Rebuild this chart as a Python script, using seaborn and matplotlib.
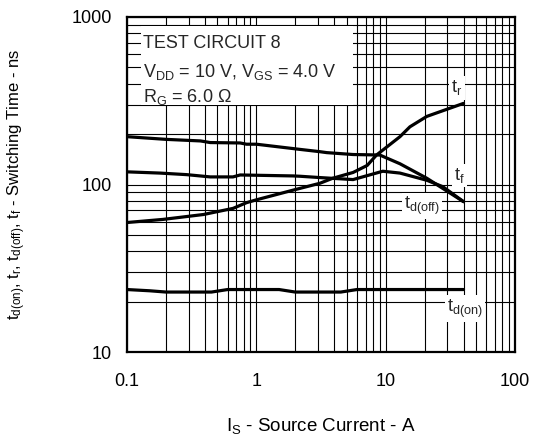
import numpy as np
import pandas as pd
import seaborn as sns
import matplotlib
matplotlib.use("Agg")
import matplotlib.pyplot as plt
from matplotlib.patches import Rectangle
from matplotlib.ticker import FixedLocator, FixedFormatter, NullFormatter, LogLocator

# Switching time vs. source current, one array pair per curve
current_td_off = [0.1, 0.134, 0.2, 0.37, 0.44, 0.75, 0.84, 1.0, 2.18, 3.1, 3.5, 5.6, 9.0, 12.9, 20.8, 40]
time_td_off = [193, 190, 186, 182, 178, 177, 174, 174, 162, 157, 155, 151, 150, 133, 109, 79]

current_tf = [0.1, 0.18, 0.29, 0.44, 0.66, 0.75, 1.93, 2.18, 3.1, 5.6, 9.5, 12.9, 20.8, 27.7, 40]
time_tf = [119, 117, 114.5, 111, 111, 114, 112.5, 112, 110, 107, 120, 117, 106, 97, 79]

current_tr = [0.1, 0.19, 0.39, 0.66, 0.84, 1.0, 1.93, 3.1, 3.9, 5.6, 7.2, 8.5, 12.9, 15.4, 20.8, 40]
time_tr = [59.3, 61.9, 66.2, 72, 77.9, 81, 92.6, 101.7, 109, 118, 130, 150, 193, 221, 255, 305]

current_td_on = [0.1, 0.15, 0.2, 0.45, 0.6, 1.5, 2.0, 4.5, 6.0, 40]
time_td_on = [23.6, 23.2, 22.8, 22.8, 23.6, 23.6, 22.8, 22.8, 23.6, 23.6]

x_ticks = [0.1, 1, 10, 100]
x_tick_labels = ["0.1", "1", "10", "100"]
y_ticks = [10, 100, 1000]
y_tick_labels = ["10", "100", "1000"]

sns.set_theme(style="white")
plt.rcParams["font.family"] = ["Liberation Sans", "DejaVu Sans"]
plt.rcParams["mathtext.default"] = "regular"

frames = []
for name, xs, ys in [
    ("td_off", current_td_off, time_td_off),
    ("tf", current_tf, time_tf),
    ("tr", current_tr, time_tr),
    ("td_on", current_td_on, time_td_on),
]:
    frames.append(pd.DataFrame({"current": xs, "time": ys, "curve": name}))
df = pd.concat(frames, ignore_index=True)

fig = plt.figure(figsize=(5.33, 4.37), dpi=100)
ax = fig.add_axes([0.2383, 0.1945, 0.7279, 0.7666])

sns.lineplot(
    data=df, x="current", y="time", hue="curve", units="curve",
    estimator=None, sort=False, legend=False,
    palette={k: "black" for k in df["curve"].unique()},
    linewidth=2.3, ax=ax, zorder=5,
)

ax.set_xscale("log")
ax.set_yscale("log")
ax.set_xlim(0.1, 100)
ax.set_ylim(10, 1000)

ax.xaxis.set_major_locator(FixedLocator(x_ticks))
ax.xaxis.set_major_formatter(FixedFormatter(x_tick_labels))
ax.yaxis.set_major_locator(FixedLocator(y_ticks))
ax.yaxis.set_major_formatter(FixedFormatter(y_tick_labels))
ax.xaxis.set_minor_locator(LogLocator(base=10, subs=np.arange(2, 10)))
ax.yaxis.set_minor_locator(LogLocator(base=10, subs=np.arange(2, 10)))
ax.xaxis.set_minor_formatter(NullFormatter())
ax.yaxis.set_minor_formatter(NullFormatter())

ax.set_axisbelow(True)
ax.grid(True, which="both", color="black", linewidth=0.8)
ax.tick_params(which="both", length=0, labelsize=13, colors="black")
ax.tick_params(axis="y", pad=11)
ax.tick_params(axis="x", pad=15)

for s in ax.spines.values():
    s.set_color("black")
    s.set_linewidth(1.6)
    s.set_zorder(6)

ax.set_xlabel("I$_S$ - Source Current - A", fontsize=13.5, labelpad=19, color="black")
ax.set_ylabel("t$_{d(on)}$, t$_r$, t$_{d(off)}$, t$_f$ - Switching Time - ns",
              fontsize=12, labelpad=31, color="black")

# Test conditions panel
ax.add_patch(Rectangle((0.035, 0.736), 0.547, 0.238, transform=ax.transAxes,
                       facecolor="white", edgecolor="none", zorder=1))
ax.text(0.041, 0.922, "TEST CIRCUIT 8", transform=ax.transAxes, fontsize=13,
        va="center", ha="left", zorder=4)
ax.text(0.041, 0.836, "V$_{DD}$ = 10 V, V$_{GS}$ = 4.0 V", transform=ax.transAxes,
        fontsize=13, va="center", ha="left", zorder=4)
ax.text(0.041, 0.761, "R$_G$ = 6.0 Ω", transform=ax.transAxes, fontsize=13,
        va="center", ha="left", zorder=4)

# Curve labels
box = dict(facecolor="white", edgecolor="none", pad=1.5)
ax.text(35.6, 377, "t$_r$", fontsize=13, ha="center", va="center", bbox=box, zorder=4)
ax.text(37, 113.6, "t$_f$", fontsize=13, ha="center", va="center", bbox=box, zorder=4)
ax.text(19.1, 74.2, "t$_{d(off)}$", fontsize=13, ha="center", va="center", bbox=box, zorder=4)
ax.text(41.1, 18.2, "t$_{d(on)}$", fontsize=13, ha="center", va="center", bbox=box, zorder=4)

fig.savefig("out.png", dpi=100, facecolor="white")
